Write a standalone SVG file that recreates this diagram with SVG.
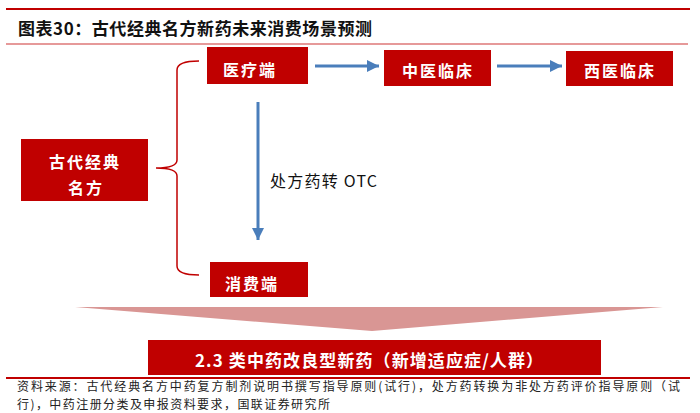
<svg xmlns="http://www.w3.org/2000/svg" width="700" height="413" viewBox="0 0 700 413">
<defs>
<style>
.box{fill:#c00000;}
.nt{font-family:"Noto Sans CJK SC","Noto Sans",sans-serif;font-size:16px;font-weight:bold;fill:#ffffff;letter-spacing:2px;}
.conn{stroke:#4a7ebb;stroke-width:3;fill:none;}
.rule{stroke:#c00000;fill:none;}
.foot{font-family:"Noto Sans CJK SC","Liberation Sans",sans-serif;font-size:12px;fill:#222222;}
</style>
<marker id="ah" markerUnits="userSpaceOnUse" markerWidth="13" markerHeight="12" refX="12" refY="6" orient="auto">
<path d="M0,0 L12,6 L0,12 Z" fill="#4a7ebb"/>
</marker>
</defs>
<rect width="700" height="413" fill="#ffffff"/>
<g id="frame">
<line class="rule" x1="6" y1="9" x2="690" y2="9" stroke-width="2"/>
<line class="rule" x1="6" y1="44" x2="688" y2="44" stroke-width="1.2" opacity="0.8"/>
<line class="rule" x1="6" y1="378" x2="690" y2="378" stroke-width="2"/>
<text x="18" y="35" font-family="'Noto Sans CJK SC',sans-serif" font-size="17" font-weight="bold" fill="#111111" textLength="354" lengthAdjust="spacing">图表30：古代经典名方新药未来消费场景预测</text>
</g>
<g id="connectors">
<path d="M199,61 Q177,61 177,70 L177,160 Q177,168 156,168 Q177,168 177,176 L177,266 Q177,275 199,275" stroke="#c00000" stroke-width="1.5" fill="none"/>
<line class="conn" x1="315" y1="66" x2="379" y2="66" marker-end="url(#ah)"/>
<line class="conn" x1="497" y1="66" x2="562" y2="66" marker-end="url(#ah)"/>
<line class="conn" x1="258" y1="102" x2="258" y2="240" marker-end="url(#ah)"/>
<text x="270" y="187" font-family="'Noto Sans CJK SC','Liberation Sans',sans-serif" font-size="16" fill="#111111" textLength="107" lengthAdjust="spacing">处方药转 OTC</text>
<polygon points="75,307 663,307 372,331" fill="#d99694"/>
</g>
<g id="node-origin">
<rect class="box" x="21" y="139" width="127" height="62"/>
<text class="nt" x="85" y="168" text-anchor="middle">古代经典</text>
<text class="nt" x="86" y="194" text-anchor="middle">名方</text>
</g>
<g id="node-medical">
<rect class="box" x="207" y="47" width="101" height="37"/>
<text class="nt" x="223" y="76">医疗端</text>
</g>
<g id="node-tcm">
<rect class="box" x="384" y="50" width="107" height="36"/>
<text class="nt" x="438" y="77" text-anchor="middle">中医临床</text>
</g>
<g id="node-western">
<rect class="box" x="566" y="51" width="107" height="35"/>
<text class="nt" x="620" y="77" text-anchor="middle">西医临床</text>
</g>
<g id="node-consumer">
<rect class="box" x="210" y="262" width="98" height="35"/>
<text class="nt" x="225" y="290">消费端</text>
</g>
<g id="node-result">
<rect class="box" x="148" y="340" width="453" height="35"/>
<text x="195" y="367" font-family="'Noto Sans CJK SC','Liberation Sans',sans-serif" font-size="17" font-weight="bold" fill="#ffffff" textLength="348" lengthAdjust="spacing">2.3 类中药改良型新药（新增适应症/人群）</text>
</g>
<g id="footer">
<text class="foot" x="17" y="391" textLength="663" lengthAdjust="spacing">资料来源：古代经典名方中药复方制剂说明书撰写指导原则(试行)，处方药转换为非处方药评价指导原则（试</text>
<text class="foot" x="17" y="409" textLength="313" lengthAdjust="spacing">行)，中药注册分类及申报资料要求，国联证券研究所</text>
</g>
</svg>
